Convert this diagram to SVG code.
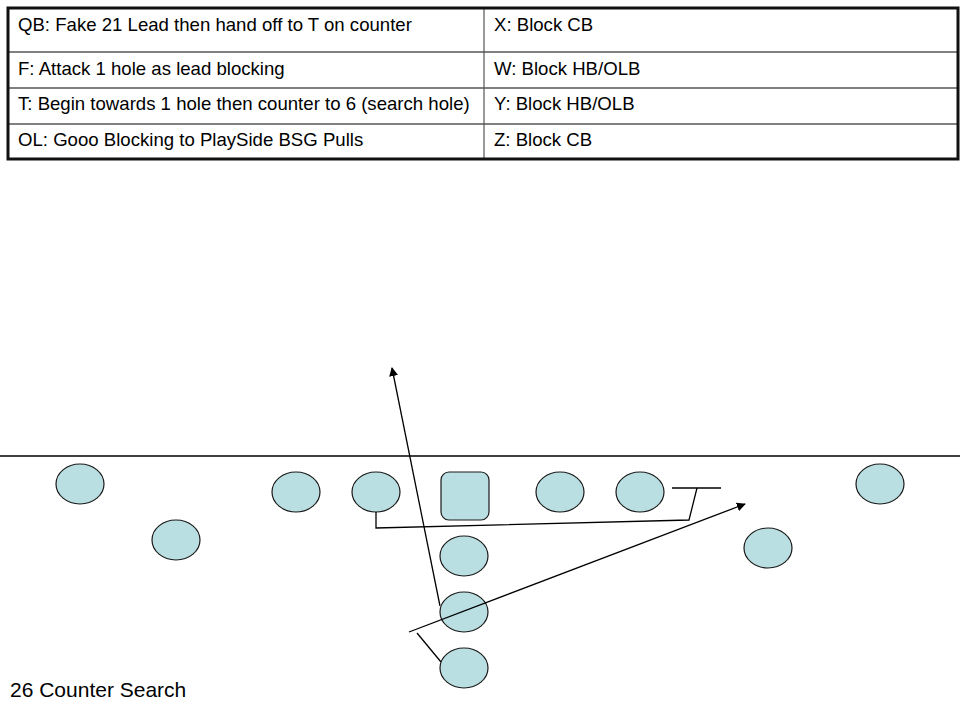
<svg xmlns="http://www.w3.org/2000/svg" width="960" height="720" viewBox="0 0 960 720">
<style>
.p{fill:#b9dfe3;stroke:#1a1a1a;stroke-width:1.2}
.t{font-family:"Liberation Sans",Arial,sans-serif;font-size:18.6px;fill:#000}
.c{fill:none;stroke:#000;stroke-width:1.3}
.g{stroke:#808080;stroke-width:2}
</style>
<defs>
<marker id="ah" viewBox="0 0 10 10" refX="9" refY="5" markerWidth="9" markerHeight="9" markerUnits="userSpaceOnUse" orient="auto">
<path d="M0,0 L10,5 L0,10 z" fill="#000"/>
</marker>
</defs>
<rect width="960" height="720" fill="#fff"/>
<g id="table">
<line class="g" x1="8" y1="52" x2="958" y2="52"/>
<line class="g" x1="8" y1="88" x2="958" y2="88"/>
<line class="g" x1="8" y1="124" x2="958" y2="124"/>
<line x1="484" y1="8" x2="484" y2="159" stroke="#555" stroke-width="1.2"/>
<rect x="8" y="8" width="950" height="151" fill="none" stroke="#111" stroke-width="3"/>
<text class="t" x="18" y="31">QB: Fake 21 Lead then hand off to T on counter</text>
<text class="t" x="18" y="75">F: Attack 1 hole as lead blocking</text>
<text class="t" x="18" y="110">T: Begin towards 1 hole then counter to 6 (search hole)</text>
<text class="t" x="18" y="146">OL: Gooo Blocking to PlaySide BSG Pulls</text>
<text class="t" x="494" y="31">X: Block CB</text>
<text class="t" x="494" y="75">W: Block HB/OLB</text>
<text class="t" x="494" y="110">Y: Block HB/OLB</text>
<text class="t" x="494" y="146">Z: Block CB</text>
</g>
<line id="los" x1="0" y1="456" x2="960" y2="456" stroke="#000" stroke-width="1.3"/>
<g id="X"><ellipse class="p" cx="80" cy="484" rx="24" ry="20"/></g>
<g id="W"><ellipse class="p" cx="176" cy="540" rx="24" ry="20"/></g>
<g id="LT"><ellipse class="p" cx="296" cy="492" rx="24" ry="20"/></g>
<g id="LG"><ellipse class="p" cx="376" cy="492" rx="24" ry="20"/></g>
<g id="C"><rect class="p" x="441" y="472" width="48" height="48" rx="8"/></g>
<g id="RG"><ellipse class="p" cx="560" cy="492" rx="24" ry="20"/></g>
<g id="RT"><ellipse class="p" cx="640" cy="492" rx="24" ry="20"/></g>
<g id="Y"><ellipse class="p" cx="768" cy="548" rx="24" ry="20"/></g>
<g id="Z"><ellipse class="p" cx="880" cy="484" rx="24" ry="20"/></g>
<g id="QB"><ellipse class="p" cx="464" cy="556" rx="24" ry="20"/></g>
<g id="F"><ellipse class="p" cx="464" cy="612" rx="24" ry="20"/></g>
<g id="T"><ellipse class="p" cx="464" cy="668" rx="24" ry="20"/></g>
<g id="connectors">
<line class="c" x1="440" y1="606" x2="392" y2="368" marker-end="url(#ah)"/>
<polyline class="c" points="376,512 376,528 689,520 697,488"/>
<line class="c" x1="672" y1="488" x2="721" y2="488"/>
<line class="c" x1="441" y1="662" x2="417" y2="633"/>
<line class="c" x1="409" y1="632" x2="745" y2="504" marker-end="url(#ah)"/>
</g>
<text id="title" x="10" y="697" style="font-family:'Liberation Sans',Arial,sans-serif;font-size:21px" fill="#000">26 Counter Search</text>
</svg>
